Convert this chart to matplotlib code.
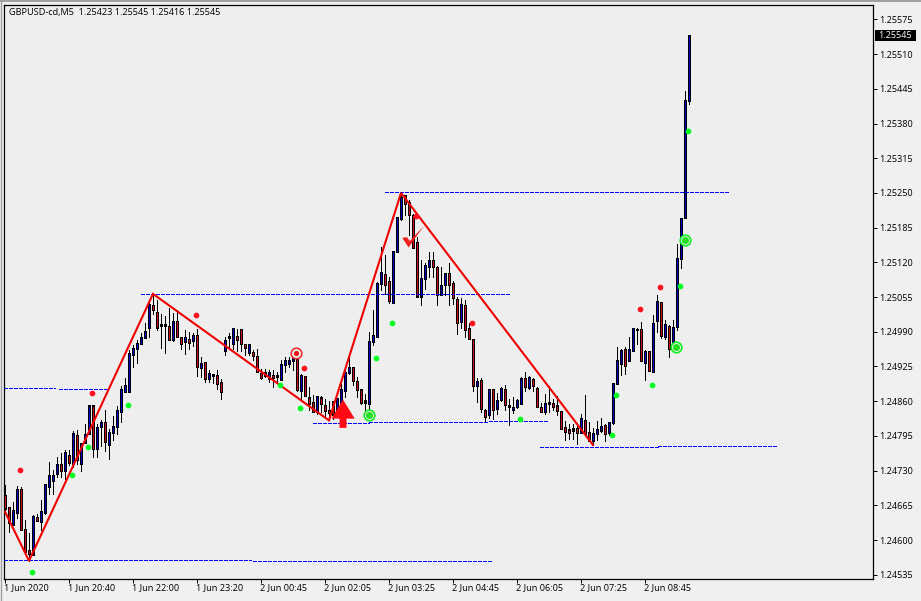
import matplotlib
matplotlib.use("Agg")
import matplotlib.pyplot as plt
from matplotlib.patches import Rectangle
from matplotlib.transforms import ScaledTranslation

# prices are points above 1.24000
base = 124000

opens = [684, 661, 630, 651, 695, 619, 581, 573, 643, 634, 651, 701, 711, 724, 742, 731, 758, 744, 796, 743,
         782, 799, 851, 771, 812, 820, 779, 802, 812, 840, 879, 879, 947, 958, 968, 979, 998, 1040, 1026, 1003,
         1003, 1000, 976, 1010, 979, 971, 976, 973, 983, 923, 933, 902, 909, 908, 895, 955, 979, 968, 981, 994,
         966, 952, 951, 943, 911, 909, 903, 908, 908, 901, 928, 931, 936, 938, 880, 906, 866, 857, 841, 866,
         852, 842, 859, 840, 858, 880, 913, 923, 897, 881, 861, 855, 971, 982, 1081, 1097, 1084, 1044, 1141, 1203,
         1245, 1232, 1208, 1157, 1057, 1090, 1113, 1123, 1110, 1060, 1079, 1099, 1081, 1051, 1009, 1039, 996, 976, 889, 899,
         843, 835, 882, 846, 863, 882, 851, 845, 850, 856, 903, 885, 900, 884, 848, 840, 857, 856, 851, 841,
         811, 806, 809, 809, 801, 824, 801, 787, 799, 806, 815, 801, 820, 893, 930, 957, 936, 955, 994, 995,
         933, 953, 915, 1011, 1045, 981, 1000, 959, 1000, 1128, 1205, 1423]
highs = [703, 662, 671, 701, 700, 637, 613, 646, 648, 675, 704, 746, 731, 756, 763, 769, 768, 805, 806, 782,
         817, 852, 852, 818, 825, 844, 807, 832, 851, 888, 903, 955, 965, 975, 988, 1006, 1043, 1061, 1049, 1024,
         1020, 1034, 1026, 1031, 981, 993, 990, 987, 996, 942, 933, 918, 911, 918, 902, 981, 988, 996, 996, 994,
         968, 968, 955, 958, 921, 921, 918, 918, 915, 937, 943, 943, 949, 938, 911, 908, 886, 871, 869, 869,
         865, 861, 859, 865, 893, 924, 948, 924, 905, 881, 874, 990, 1030, 1083, 1149, 1133, 1093, 1141, 1204, 1250,
         1246, 1236, 1211, 1168, 1124, 1118, 1140, 1140, 1113, 1111, 1099, 1118, 1085, 1056, 1053, 1050, 1006, 976, 904, 904,
         845, 883, 883, 876, 886, 890, 864, 867, 865, 906, 914, 907, 903, 887, 856, 874, 889, 865, 870, 841,
         822, 818, 817, 820, 836, 871, 821, 809, 822, 828, 817, 821, 894, 961, 957, 961, 981, 996, 998, 1008,
         955, 954, 1021, 1059, 1045, 1012, 1003, 1012, 1154, 1204, 1441, 1545]
lows = [653, 615, 629, 641, 619, 578, 561, 571, 635, 618, 649, 686, 687, 718, 718, 715, 740, 737, 742, 729,
        781, 798, 756, 756, 776, 767, 752, 787, 798, 821, 879, 879, 924, 931, 967, 979, 981, 1024, 993, 959,
        951, 975, 973, 981, 958, 948, 957, 963, 907, 905, 896, 896, 894, 882, 864, 946, 961, 958, 954, 954,
        946, 946, 937, 915, 902, 905, 896, 886, 896, 900, 915, 924, 918, 880, 860, 869, 843, 840, 836, 840,
        833, 824, 827, 836, 843, 868, 911, 890, 868, 855, 843, 840, 965, 982, 1068, 1061, 1043, 1043, 1140, 1199,
        1208, 1171, 1146, 1055, 1040, 1071, 1093, 1093, 1040, 1058, 1058, 1040, 1042, 986, 998, 981, 977, 880, 858, 840,
        823, 828, 826, 836, 861, 843, 816, 838, 848, 855, 880, 883, 880, 850, 840, 836, 840, 843, 834, 807,
        787, 789, 789, 780, 800, 798, 785, 778, 788, 803, 786, 796, 817, 892, 909, 910, 936, 955, 968, 936,
        900, 916, 914, 990, 978, 976, 943, 956, 993, 1109, 1204, 1416]
closes = [660, 633, 656, 695, 619, 579, 575, 644, 636, 653, 704, 721, 721, 742, 730, 764, 746, 800, 750, 781,
          798, 851, 771, 811, 820, 784, 801, 813, 843, 882, 889, 950, 959, 968, 979, 991, 1041, 1031, 999, 1002,
          1002, 975, 1010, 981, 968, 979, 970, 983, 925, 930, 902, 911, 908, 893, 878, 974, 981, 996, 976, 968,
          960, 966, 945, 915, 905, 913, 913, 904, 907, 929, 936, 936, 940, 882, 908, 870, 856, 841, 868, 856,
          843, 838, 836, 865, 882, 913, 923, 898, 882, 857, 858, 971, 983, 1080, 1101, 1079, 1049, 1140, 1204, 1241,
          1230, 1209, 1148, 1057, 1090, 1115, 1124, 1112, 1060, 1076, 1099, 1079, 1054, 1007, 1041, 995, 977, 889, 897, 846,
          831, 882, 845, 861, 884, 853, 850, 849, 861, 903, 887, 904, 889, 850, 840, 856, 855, 850, 842, 808,
          803, 801, 806, 801, 828, 800, 786, 800, 807, 813, 799, 820, 893, 936, 955, 927, 957, 996, 995, 937,
          953, 917, 1006, 1047, 983, 1003, 958, 998, 1128, 1202, 1423, 1545]

tick_labels = ["1 Jun 2020", "1 Jun 20:40", "1 Jun 22:00", "1 Jun 23:20", "2 Jun 00:45", "2 Jun 02:05",
               "2 Jun 03:25", "2 Jun 04:45", "2 Jun 06:05", "2 Jun 07:25", "2 Jun 08:45"]
price_ticks = [1.24535, 1.24600, 1.24665, 1.24730, 1.24795, 1.24860, 1.24925, 1.24990, 1.25055,
               1.25120, 1.25185, 1.25250, 1.25315, 1.25380, 1.25445, 1.25510, 1.25575]
last_price = 1.25545

zigzag_i = [0, 6, 37, 81, 99, 147]
zigzag_p = [653, 561, 1061, 824, 1250, 778]

# (start bar, end bar, level)
levels = [(-0.25, 12.5, 884), (13.5, 26, 883), (-0.25, 61.5, 563), (62, 122, 561), (34, 126, 1060),
          (95, 181, 1251), (77, 91, 820), (91, 121, 821), (121, 135.7, 823), (133.8, 163.2, 775), (163.2, 193, 777)]

red_i = [3.75, 21.75, 47.75, 74.75, 102.75, 116.75, 158.75, 163.75]
red_p = [732, 875, 1021, 923, 1206, 1006, 1032, 1073]
green_i = [6.75, 16.83, 20.75, 30.83, 68.75, 73.75, 92.83, 96.75, 128.75, 151.75, 152.75, 161.75, 168.75, 170.75]
green_p = [541, 721, 775, 852, 891, 848, 940, 1007, 826, 796, 871, 890, 1075, 1367]
ring_red_i, ring_red_p = [72.83], [950]
ring_green_i = [90.9, 167.8, 169.9]
ring_green_p = [834, 961, 1162]

arrow_i, arrow_base, arrow_top = 84.5, 810, 863
check_i = [99.3, 100.5, 101.2, 104.7, 100.9]
check_p = [1166, 1167, 1160, 1188, 1148]


def px(v):
    return (base + v) / 1e5


W, H = 921, 601
BG = "#EEEEEE"
FONT = "Open Sans"
FS = 6.6
PT = 0.72  # one pixel

plt.rcParams["font.family"] = [FONT, "DejaVu Sans"]
fig = plt.figure(figsize=(W / 100, H / 100), dpi=100, facecolor="#F0F0F0")
ax = fig.add_axes([4 / W, 1 - 578.5 / H, 869 / W, 574 / H], facecolor=BG)
ax.set_xlim(-0.25, 217)
ax.set_ylim(1.245279, 1.25603)

# candles: wick, 3px black body, 1px coloured core
for i in range(len(opens)):
    o, h, l, c = px(opens[i]), px(highs[i]), px(lows[i]), px(closes[i])
    top, bot = max(o, c), min(o, c)
    ax.plot([i, i], [l, h], color="black", lw=PT, antialiased=False, solid_capstyle="butt", zorder=2)
    ax.plot([i, i], [bot - 0.00001, top + 0.00001], color="black", lw=3 * PT, antialiased=False,
            solid_capstyle="butt", zorder=3)
    if top - bot > 0.00004:
        fill = "#0000C8" if c >= o else "#D01010"
        ax.plot([i, i], [bot + 0.00001, top - 0.00001], color=fill, lw=PT, antialiased=False,
                solid_capstyle="butt", zorder=3.5)

for x0, x1, lev in levels:
    ax.plot([x0, x1], [px(lev), px(lev)], color="#0000FF", lw=PT, linestyle=(0, (3, 2)),
            antialiased=False, zorder=4)

ax.plot(zigzag_i, [px(v) for v in zigzag_p], color="#F00000", lw=1.5, zorder=5, solid_joinstyle="miter")

ax.scatter(red_i, [px(v) for v in red_p], s=17, color="#FF1020", linewidths=0, zorder=6)
ax.scatter(green_i, [px(v) for v in green_p], s=17, color="#00FF20", linewidths=0, zorder=6)

ax.scatter(ring_red_i, [px(v) for v in ring_red_p], s=58, facecolor=BG, edgecolor="#F03030", linewidths=1.2, zorder=6)
ax.scatter(ring_red_i, [px(v) for v in ring_red_p], s=14, color="#F01010", linewidths=0, zorder=7)
ax.scatter(ring_green_i, [px(v) for v in ring_green_p], s=58, facecolor=BG, edgecolor="#10F020", linewidths=1.2, zorder=6)
ax.scatter(ring_green_i, [px(v) for v in ring_green_p], s=26, color="#20E020", linewidths=0, zorder=7)

ax.annotate("", xy=(arrow_i, px(arrow_top)), xytext=(arrow_i, px(arrow_base)),
            arrowprops=dict(width=5, headwidth=16.8, headlength=13.7, shrink=0, color="#FF0A14", lw=0), zorder=8)
ax.fill(check_i, [px(v) for v in check_p], color="#F02020", lw=0, zorder=8)

# axes, ticks
for s in ["top", "left", "bottom", "right"]:
    ax.spines[s].set_linewidth(0.9)
ax.yaxis.tick_right()
ax.set_yticks(price_ticks)
ax.set_yticklabels(["%.5f" % p for p in price_ticks])
ax.set_xticks(list(range(0, 161, 16)))
ax.set_xticklabels(tick_labels, ha="left")
ax.tick_params(axis="y", length=3, width=PT, pad=1.5, labelsize=FS, colors="black")
ax.tick_params(axis="x", length=3, width=PT, pad=0, labelsize=FS, colors="black")
nudge = ScaledTranslation(-1 / 100, 0, fig.dpi_scale_trans)
for t in ax.get_xticklabels():
    t.set_transform(t.get_transform() + nudge)

ax.text(9 / W, 1 - 13 / H, "GBPUSD-cd,M5  1.25423 1.25545 1.25416 1.25545", transform=fig.transFigure,
        fontsize=FS, va="center", ha="left", color="black")

# last price box
ax.add_patch(Rectangle((1.0018, last_price - 0.0001), 0.0477, 0.0002, transform=ax.get_yaxis_transform(),
                       facecolor="black", edgecolor="none", clip_on=False, zorder=9))
ax.text(1.0063, last_price, "%.5f" % last_price, transform=ax.get_yaxis_transform(), color="white",
        fontsize=FS, va="center", ha="left", zorder=10)

# window edge
fig.add_artist(plt.Line2D([0, 1], [1 - 0.5 / H, 1 - 0.5 / H], color="#A0A0A0", lw=1.4))
fig.add_artist(plt.Line2D([0.5 / W, 0.5 / W], [0, 1], color="#A0A0A0", lw=1.0))

fig.savefig("out.png", dpi=100, facecolor=fig.get_facecolor())
